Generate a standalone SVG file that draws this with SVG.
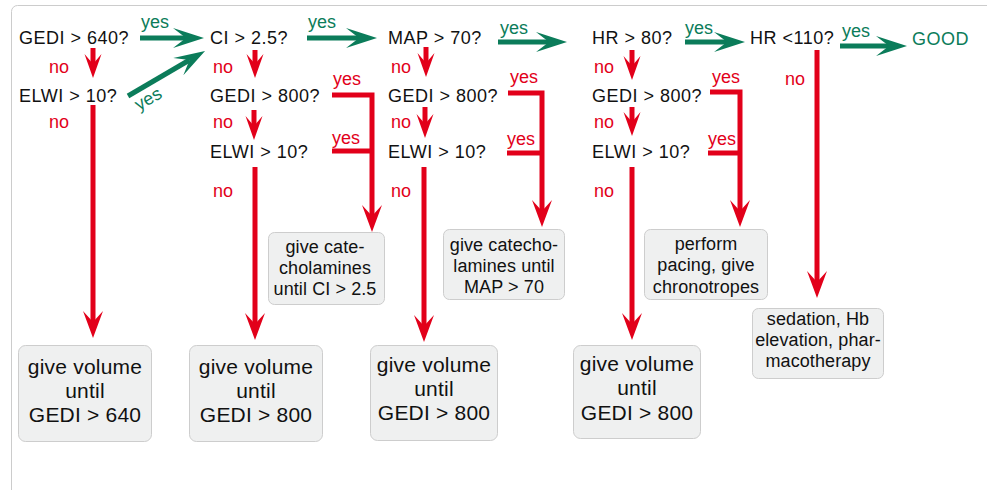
<svg xmlns="http://www.w3.org/2000/svg" width="987" height="490" viewBox="0 0 987 490">
<style>
text{font-family:"Liberation Sans",Arial,sans-serif}
.q{font-size:18px;fill:#111;letter-spacing:0.5px}
.good{font-size:18px;fill:#0b7c5a;letter-spacing:0.5px}
.y{font-size:18px;fill:#0b7c5a}
.ry{font-size:18px;fill:#e2001a}
.no{font-size:18px;fill:#e2001a}
.box{fill:#eff0f0;stroke:#cdcdcd;stroke-width:1}
.bt{font-size:21px;fill:#111;text-anchor:middle;letter-spacing:0.2px}
.st{font-size:18px;fill:#111;text-anchor:middle;letter-spacing:0.1px}
.r{fill:none;stroke:#e2001a;stroke-width:5;stroke-linejoin:miter}
.g{fill:none;stroke:#0b7c5a;stroke-width:5}
</style>
<defs>
<marker id="mr" viewBox="-12 -11 30 22" refX="0" refY="0" markerWidth="30" markerHeight="22" markerUnits="userSpaceOnUse" orient="auto"><path d="M16,0 L-11,-10 L0,0 L-11,10 Z" fill="#e2001a"/></marker>
<marker id="ms" viewBox="-12 -10 28 20" refX="0" refY="0" markerWidth="28" markerHeight="20" markerUnits="userSpaceOnUse" orient="auto"><path d="M14,0 L-10,-8.5 L0,0 L-10,8.5 Z" fill="#e2001a"/></marker>
<marker id="mg" viewBox="-14 -11 33 22" refX="0" refY="0" markerWidth="33" markerHeight="22" markerUnits="userSpaceOnUse" orient="auto"><path d="M18,0 L-13,-10 L0,0 L-13,10 Z" fill="#0b7c5a"/></marker>
</defs>
<rect x="11.5" y="5.5" width="1000" height="500" rx="6" fill="#fff" stroke="#cccccc" stroke-width="1"/>

<g id="connectors">
<path class="g" d="M140,38 H186" marker-end="url(#mg)"/>
<path class="g" d="M307,38 H359" marker-end="url(#mg)"/>
<path class="g" d="M498,42 H549" marker-end="url(#mg)"/>
<path class="g" d="M685,42 H727" marker-end="url(#mg)"/>
<path class="g" d="M840,46 H889" marker-end="url(#mg)"/>
<path class="g" d="M128,96 L189.5,60" marker-end="url(#mg)"/>
<text class="y" x="141" y="28">yes</text>
<text class="y" x="308" y="28">yes</text>
<text class="y" x="500" y="34">yes</text>
<text class="y" x="685" y="34">yes</text>
<text class="y" x="842" y="37">yes</text>
<text class="y" transform="translate(139,111) rotate(-30)">yes</text>

<path class="r" d="M93,48 V64" marker-end="url(#ms)"/>
<path class="r" d="M93,105 V322" marker-end="url(#mr)"/>
<text class="no" x="49" y="73">no</text>
<text class="no" x="49" y="128">no</text>

<path class="r" d="M255,50 V64" marker-end="url(#ms)"/>
<path class="r" d="M254,110 V126" marker-end="url(#ms)"/>
<path class="r" d="M255,167 V324" marker-end="url(#mr)"/>
<text class="no" x="213" y="73">no</text>
<text class="no" x="213" y="128">no</text>
<text class="no" x="213" y="197">no</text>
<path class="r" d="M332,95 H372 V216" marker-end="url(#mr)"/>
<path class="r" d="M332,151 H372"/>
<text class="ry" x="333" y="85">yes</text>
<text class="ry" x="332" y="144">yes</text>

<path class="r" d="M426,47 V63" marker-end="url(#ms)"/>
<path class="r" d="M425,107 V124" marker-end="url(#ms)"/>
<path class="r" d="M424,167 V326" marker-end="url(#mr)"/>
<text class="no" x="391" y="73">no</text>
<text class="no" x="391" y="128">no</text>
<text class="no" x="391" y="197">no</text>
<path class="r" d="M508,93 H542 V211" marker-end="url(#mr)"/>
<path class="r" d="M507,153 H542"/>
<text class="ry" x="510" y="83">yes</text>
<text class="ry" x="507" y="145">yes</text>

<path class="r" d="M632,50 V66" marker-end="url(#ms)"/>
<path class="r" d="M632,107 V122" marker-end="url(#ms)"/>
<path class="r" d="M632,167 V324" marker-end="url(#mr)"/>
<text class="no" x="594" y="73">no</text>
<text class="no" x="594" y="128">no</text>
<text class="no" x="594" y="197">no</text>
<path class="r" d="M710,92 H740 V211" marker-end="url(#mr)"/>
<path class="r" d="M708,153 H740"/>
<text class="ry" x="712" y="83">yes</text>
<text class="ry" x="708" y="145">yes</text>

<path class="r" d="M817,50 V282" marker-end="url(#mr)"/>
<text class="no" x="785" y="85">no</text>
</g>

<g id="q-gedi640"><text class="q" x="19" y="44">GEDI &gt; 640?</text></g>
<g id="q-elwi1"><text class="q" x="19" y="102">ELWI &gt; 10?</text></g>
<g id="q-ci"><text class="q" x="210" y="44">CI &gt; 2.5?</text></g>
<g id="q-gedi800a"><text class="q" x="210" y="102">GEDI &gt; 800?</text></g>
<g id="q-elwi2"><text class="q" x="210" y="158">ELWI &gt; 10?</text></g>
<g id="q-map"><text class="q" x="388" y="44">MAP &gt; 70?</text></g>
<g id="q-gedi800b"><text class="q" x="388" y="102">GEDI &gt; 800?</text></g>
<g id="q-elwi3"><text class="q" x="388" y="158">ELWI &gt; 10?</text></g>
<g id="q-hr80"><text class="q" x="592" y="44">HR &gt; 80?</text></g>
<g id="q-gedi800c"><text class="q" x="592" y="102">GEDI &gt; 800?</text></g>
<g id="q-elwi4"><text class="q" x="592" y="158">ELWI &gt; 10?</text></g>
<g id="q-hr110"><text class="q" x="750" y="44">HR &lt;110?</text></g>
<g id="good"><text class="good" x="912" y="45">GOOD</text></g>

<g id="box-vol640">
<rect class="box" x="18.5" y="345.5" width="133" height="96" rx="7"/>
<text class="bt" x="85" y="374">give volume</text>
<text class="bt" x="85" y="398">until</text>
<text class="bt" x="85" y="422">GEDI &gt; 640</text>
</g>
<g id="box-vol800a">
<rect class="box" x="189.5" y="345.5" width="133" height="96" rx="7"/>
<text class="bt" x="256" y="374">give volume</text>
<text class="bt" x="256" y="398">until</text>
<text class="bt" x="256" y="422">GEDI &gt; 800</text>
</g>
<g id="box-vol800b">
<rect class="box" x="370.5" y="345.5" width="127" height="95" rx="7"/>
<text class="bt" x="434" y="372">give volume</text>
<text class="bt" x="434" y="396">until</text>
<text class="bt" x="434" y="420">GEDI &gt; 800</text>
</g>
<g id="box-vol800c">
<rect class="box" x="573.5" y="345.5" width="127" height="93" rx="7"/>
<text class="bt" x="637" y="371">give volume</text>
<text class="bt" x="637" y="395">until</text>
<text class="bt" x="637" y="420">GEDI &gt; 800</text>
</g>
<g id="box-cate-ci">
<rect class="box" x="268.5" y="232.5" width="116" height="72" rx="6"/>
<text class="st" x="325" y="253">give cate-</text>
<text class="st" x="325" y="274">cholamines</text>
<text class="st" x="325" y="295">until CI &gt; 2.5</text>
</g>
<g id="box-cate-map">
<rect class="box" x="443.5" y="229.5" width="121" height="70" rx="6"/>
<text class="st" x="504" y="251">give catecho-</text>
<text class="st" x="504" y="272">lamines until</text>
<text class="st" x="504" y="293">MAP &gt; 70</text>
</g>
<g id="box-pacing">
<rect class="box" x="644.5" y="229.5" width="123" height="70" rx="6"/>
<text class="st" x="706" y="250">perform</text>
<text class="st" x="706" y="271">pacing, give</text>
<text class="st" x="706" y="293">chronotropes</text>
</g>
<g id="box-sedation">
<rect class="box" x="752.5" y="308.5" width="131" height="70" rx="6"/>
<text class="st" x="818" y="325">sedation, Hb</text>
<text class="st" x="818" y="346">elevation, phar-</text>
<text class="st" x="818" y="367">macotherapy</text>
</g>
</svg>
